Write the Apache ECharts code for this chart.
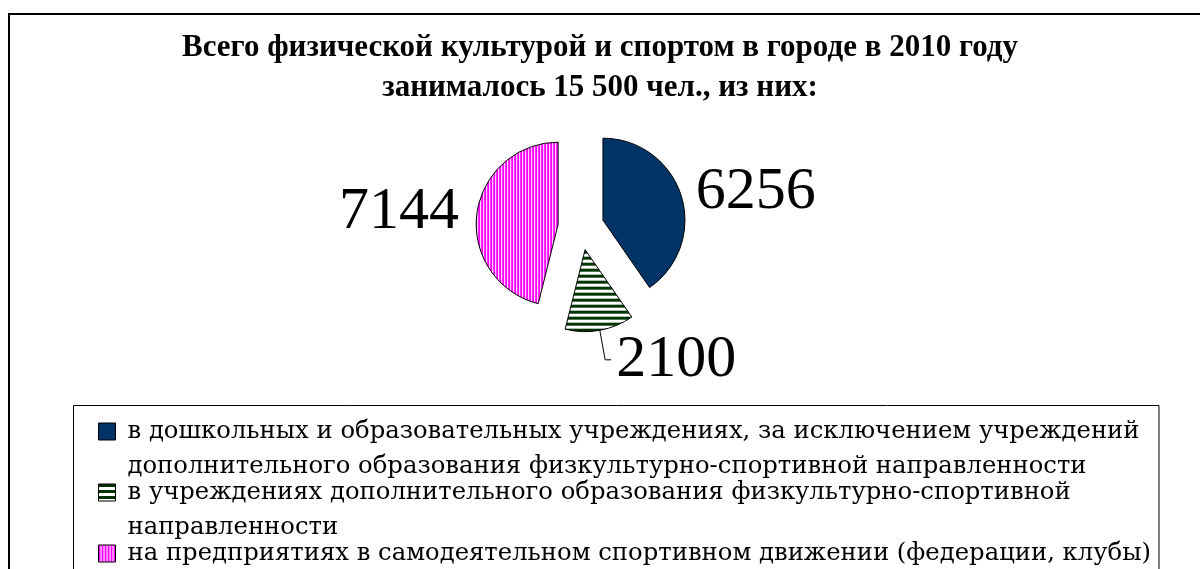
<!DOCTYPE html>
<html>
<head>
<meta charset="utf-8">
<script src="https://cdn.jsdelivr.net/npm/echarts@6/dist/echarts.min.js"></script>
<style>
    html, body { margin: 0; padding: 0; background: #fff; }
    #chart { width: 1200px; height: 569px; }
</style>
</head>
<body>
<div id="chart"></div>
<script>
// данные диаграммы
const titleLines = [
    'Всего физической культурой и спортом в городе в 2010 году',
    'занималось 15 500 чел., из них:'
];
const categories = [
    'в дошкольных и образовательных учреждениях, за исключением учреждений\nдополнительного образования физкультурно-спортивной направленности',
    'в учреждениях дополнительного образования физкультурно-спортивной\nнаправленности',
    'на предприятиях в самодеятельном спортивном движении (федерации, клубы)'
];
const values = [6256, 2100, 7144];

// штриховки
function makePattern (w, h, paint) {
    let c = document.createElement('canvas');
    c.width = w;
    c.height = h;
    paint(c.getContext('2d'));
    return { image: c, repeat: 'repeat' };
}
const blueFill = '#003366';
const greenFill = makePattern(6, 6, ctx => {
    ctx.fillStyle = '#ffffff';
    ctx.fillRect(0, 0, 6, 6);
    ctx.fillStyle = '#003300';
    ctx.fillRect(0, 0, 6, 3);
});
const pinkFill = makePattern(3, 3, ctx => {
    ctx.fillStyle = '#ffffff';
    ctx.fillRect(0, 0, 3, 3);
    ctx.fillStyle = '#ff00ff';
    ctx.fillRect(0, 0, 2, 3);
});
const fills = [blueFill, greenFill, pinkFill];
const lineLen = [12, 30, 15];

let chart = echarts.init(document.getElementById('chart'));

let option = {
    animation: false,
    backgroundColor: '#fff',
    title: {
        text: titleLines.join('\n'),
        left: 'center',
        top: 28,
        padding: 0,
        textStyle: {
            fontFamily: 'Liberation Serif',
            fontWeight: 'bold',
            fontSize: 31,
            lineHeight: 40,
            color: '#000'
        }
    },
    legend: {
        orient: 'vertical',
        left: 98,
        top: 379,
        height: 400,
        padding: 0,
        itemGap: -44,
        itemWidth: 17,
        itemHeight: 17,
        icon: 'rect',
        selectedMode: false,
        itemStyle: { borderColor: '#000', borderWidth: 1 },
        // пустая строка сверху, чтобы значок стоял у первой строки
        formatter: name => name.indexOf('\n') >= 0 ? '\n' + name : '\n' + name + '\n',
        textStyle: {
            fontFamily: 'DejaVu Serif',
            fontSize: 24.3,
            lineHeight: 35,
            color: '#000',
            padding: [0, 0, 0, 7]
        }
    },
    graphic: [
        {
            type: 'rect',
            silent: true,
            shape: { x: 9, y: 14, width: 1200, height: 600 },
            style: { fill: 'none', stroke: '#000', lineWidth: 2 }
        },
        {
            type: 'rect',
            silent: true,
            shape: { x: 73.5, y: 405.5, width: 1085.5, height: 300 },
            style: { fill: 'none', stroke: '#000', lineWidth: 1 }
        }
    ],
    series: [
        {
            type: 'pie',
            center: [581, 227],
            radius: 82,
            startAngle: 90,
            clockwise: true,
            selectedMode: 'multiple',
            selectedOffset: 23,
            avoidLabelOverlap: false,
            emphasis: { disabled: true },
            itemStyle: { borderColor: '#000', borderWidth: 1 },
            label: {
                show: true,
                position: 'outside',
                formatter: '{c}',
                fontFamily: 'Liberation Serif',
                fontSize: 60,
                color: '#000',
                distanceToLabelLine: 3
            },
            labelLine: { show: false },
            data: categories.map((name, i) => ({
                name: name,
                value: values[i],
                selected: true,
                itemStyle: { color: fills[i] },
                label: { distanceToLabelLine: i === 1 ? 5 : 3 },
                labelLine: {
                    show: i === 1,
                    length: lineLen[i],
                    length2: i === 1 ? 6 : 0,
                    lineStyle: { color: '#000', width: 1 }
                }
            }))
        }
    ]
};

chart.setOption(option);
</script>
</body>
</html>
